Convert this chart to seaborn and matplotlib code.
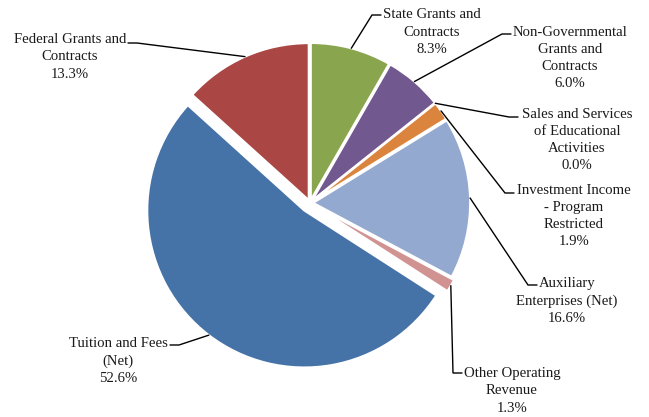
import matplotlib
matplotlib.use("Agg")
import numpy as np
import matplotlib.pyplot as plt
import seaborn as sns

# Revenue sources, listed clockwise from 12 o'clock
categories = [
    "State Grants and\nContracts",
    "Non-Governmental\nGrants and\nContracts",
    "Sales and Services\nof Educational\nActivities",
    "Investment Income\n- Program\nRestricted",
    "Auxiliary\nEnterprises (Net)",
    "Other Operating\nRevenue",
    "Tuition and Fees\n(Net)",
    "Federal Grants and\nContracts",
]
shares = [8.3, 6.0, 0.0, 1.9, 16.6, 1.3, 52.6, 13.3]
colors = ["#89A54E", "#71588F", "#4198AF", "#DB843D",
          "#93A9CF", "#D19392", "#4572A7", "#AA4643"]

# Layout (pixels): pie centre / radius, label centres, leader end points
W, H = 649, 417
CX, CY, R = 310, 203, 157
explode = [0.02, 0.02, 0.02, 0.02, 0.02, 0.04, 0.06, 0.02]
label_centers = [(432, 32), (570, 58), (577, 140), (574, 216),
                 (567, 301), (512, 391), (118, 361), (70, 57)]
leader_ends = [(381, 15), (511, 34), (518, 117), (514, 193),
               (537, 285), (462, 373), (170, 345), (128, 43)]


def to_data(px, py):
    return (px - CX) / R, (CY - py) / R


sns.set_theme(style="white")
plt.rcParams["font.family"] = ["Liberation Serif", "DejaVu Serif"]

fig = plt.figure(figsize=(W / 100, H / 100), dpi=100)
ax = fig.add_axes([0, 0, 1, 1])

palette = sns.color_palette(colors)
wedges, _ = ax.pie(
    shares,
    colors=palette,
    startangle=90,
    counterclock=False,
    explode=explode,
    radius=1.0,
    wedgeprops=dict(edgecolor="white", linewidth=1.5),
)

ax.set_xlim(-CX / R, (W - CX) / R)
ax.set_ylim(-(H - CY) / R, CY / R)
ax.set_aspect("equal")
ax.axis("off")

for w, name, val, (tx, ty), (ex, ey) in zip(
        wedges, categories, shares, label_centers, leader_ends):
    mid = np.deg2rad((w.theta1 + w.theta2) / 2)
    x0 = w.center[0] + w.r * np.cos(mid)
    y0 = w.center[1] + w.r * np.sin(mid)
    side = 1 if ex < tx else -1
    x2, y2 = to_data(ex, ey)
    x1, y1 = to_data(ex - side * 9, ey)
    ax.plot([x0, x1, x2], [y0, y1, y2], color="black", lw=1.0,
            solid_joinstyle="miter")
    lx, ly = to_data(tx, ty)
    ax.text(lx, ly, f"{name}\n{val:.1f}%", ha="center", va="center",
            fontsize=10.6, linespacing=1.42, color="#1a1a1a")

fig.savefig("out.png", dpi=100)
